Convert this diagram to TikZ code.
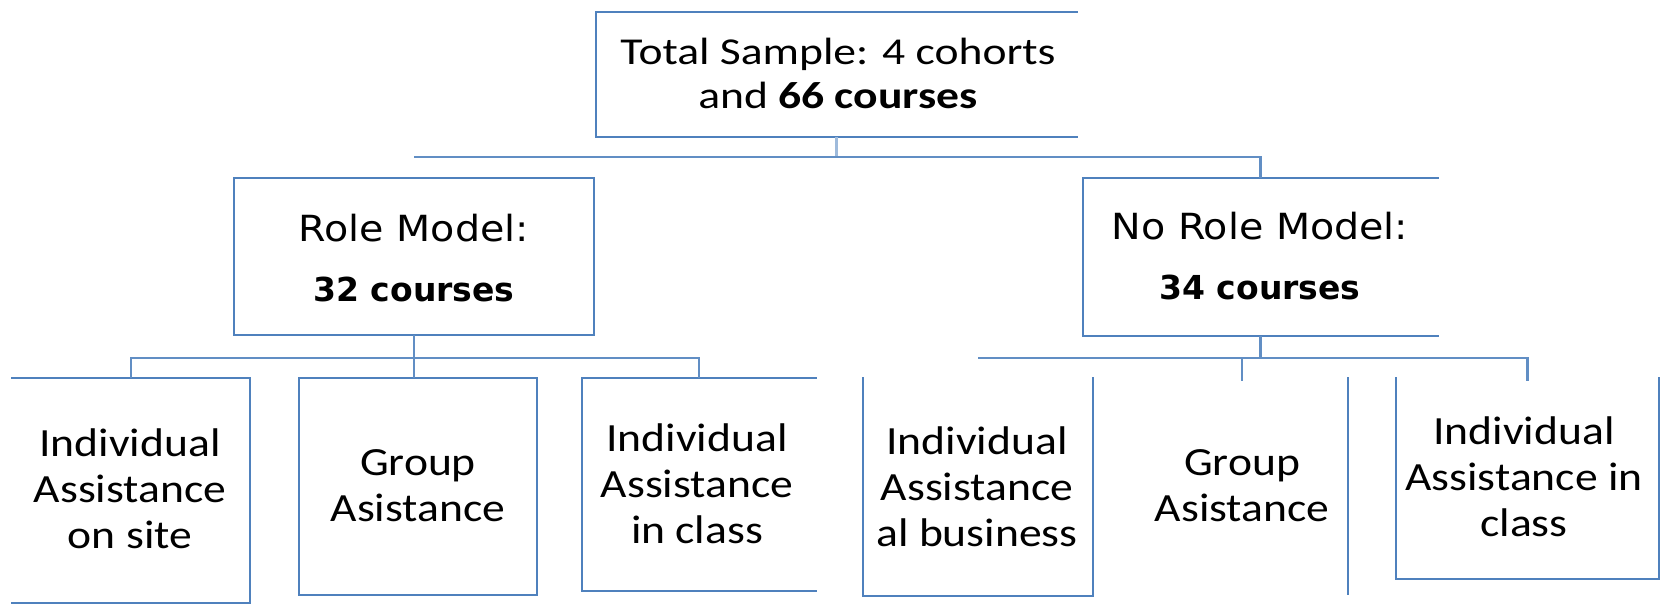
\documentclass[tikz,border=0pt]{standalone}
\usepackage{fontspec}
\setmainfont{Carlito}
\newfontfamily\topfont[FakeStretch=1.2]{Carlito}
\newfontfamily\botfont[FakeStretch=1.14]{Carlito}
\newfontfamily\midfont[FakeStretch=1.1]{DejaVu Sans}
\newfontfamily\midboldfont{DejaVu Sans}
\definecolor{boxblue}{RGB}{79,129,189}
\tikzset{
  edge/.style={draw=boxblue, line width=2.6pt, line cap=rect},
  conn/.style={draw=boxblue!90, line width=2.4pt},
  area/.style={draw=none, rectangle, inner sep=0pt, outer sep=0pt},
  txt/.style={align=center, inner sep=0pt, font=\botfont\fontsize{40}{46}\selectfont},
  toptxt/.style={align=center, inner sep=0pt, font=\topfont\fontsize{38}{44}\selectfont},
  midtxt/.style={align=center, inner sep=0pt, font=\midfont\fontsize{36}{60}\selectfont}
}
\begin{document}
\begin{tikzpicture}[x=1pt,y=-1pt]
\useasboundingbox (0,0) rectangle (1661,605);
% box areas
\node[area, minimum width=481pt, minimum height=125pt] (top) at (836.5,74.5) {};
\node[area, minimum width=360pt, minimum height=157pt] (role) at (414,256.5) {};
\node[area, minimum width=355pt, minimum height=158pt] (norole) at (1260.5,257) {};
\node[area, minimum width=238pt, minimum height=225pt] (b1) at (131,490.5) {};
\node[area, minimum width=238pt, minimum height=217pt] (b2) at (418,486.5) {};
\node[area, minimum width=234pt, minimum height=213pt] (b3) at (699,484.5) {};
\node[area, minimum width=230pt, minimum height=218pt] (b4) at (978,487) {};
\node[area, minimum width=212pt, minimum height=216pt] (b5) at (1242,486) {};
\node[area, minimum width=263pt, minimum height=201pt] (b6) at (1527.5,478.5) {};
% box edges
\draw[edge] (top.north east) -- (top.north west) -- (top.south west) -- (top.south east);
\draw[edge] (role.north west) rectangle (role.south east);
\draw[edge] (norole.north east) -- (norole.north west) -- (norole.south west) -- (norole.south east);
\draw[edge] (b1.north west) -- (b1.north east) -- (b1.south east) -- (b1.south west);
\draw[edge] (b2.north west) rectangle (b2.south east);
\draw[edge] (b3.north east) -- (b3.north west) -- (b3.south west) -- (b3.south east);
\draw[edge] (b4.north west) -- (b4.south west) -- (b4.south east) -- (b4.north east);
\draw[edge] (b5.north east) -- (b5.south east);
\draw[edge] (b6.north west) -- (b6.south west) -- (b6.south east) -- (b6.north east);
% connectors
\coordinate (trunk) at (0,157);
\coordinate (barL) at (0,358);
\coordinate (barR) at (0,358);
\draw[conn, draw=boxblue!55] (top.south) -- (top.south |- trunk);
\draw[conn] (role.north |- trunk) -| (norole.north);
\draw[conn] (role.south) -- (role.south |- b2.north);
\draw[conn] (b1.north) -- (b1.north |- barL) -- (b3.north |- barL) -- (b3.north);
\draw[conn] (norole.south) -- (norole.south |- barR);
\draw[conn] (b4.north |- barR) -- (b6.north |- barR) -- ([yshift=-3pt]b6.north);
\draw[conn] (b5.north |- barR) -- ([yshift=-3pt]b5.north);
% texts
\node[toptxt] (ttop) at (838,73) {Total Sample: 4 cohorts\\and \textbf{66 courses}};
\node[midtxt] (trole) at (414,258) {Role Model:\\{\midboldfont\bfseries\fontsize{33}{40}\selectfont 32 courses}};
\node[midtxt] (tnorole) at (1260,256) {No Role Model:\\{\midboldfont\bfseries\fontsize{33}{40}\selectfont 34 courses}};
\node[txt] (t1) at (130,489) {Individual\\Assistance\\on site};
\node[txt] (t2) at (418,486) {Group\\Asistance};
\node[txt] (t3) at (697,484) {Individual\\Assistance\\in class};
\node[txt] (t4) at (977,487) {Individual\\Assistance\\al business};
\node[txt] (t5) at (1242,486) {Group\\Asistance};
\node[txt] (t6) at (1524,477) {Individual\\Assistance in\\class};
\end{tikzpicture}
\end{document}
